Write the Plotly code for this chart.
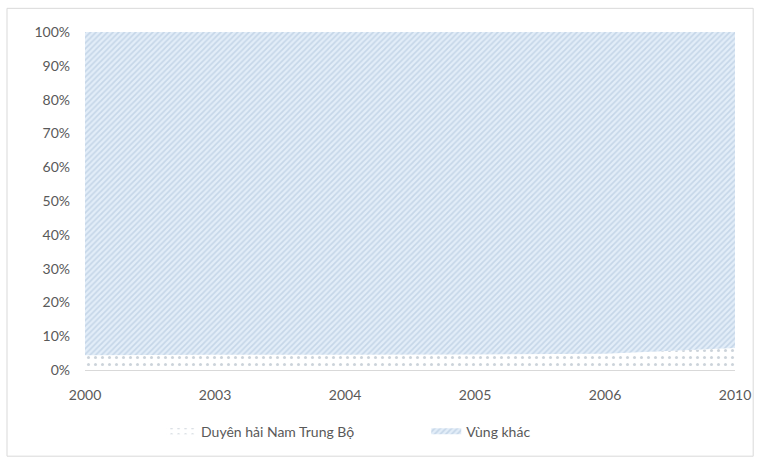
import plotly.graph_objects as go

years = ["2000", "2003", "2004", "2005", "2006", "2010"]
duyen_hai = [4.4, 4.5, 4.5, 4.6, 4.8, 6.5]
vung_khac = [95.6, 95.5, 95.5, 95.4, 95.2, 93.5]

fig = go.Figure()
fig.add_trace(go.Scatter(
    x=years, y=duyen_hai, name="Duyên hải Nam Trung Bộ",
    stackgroup="one", groupnorm="percent", mode="none", legend="legend",
    fillcolor="rgba(255,255,255,1)",
    fillpattern=dict(shape=".", fgcolor="#9aa7b5", bgcolor="white", size=7, solidity=0.15),
))
fig.add_trace(go.Scatter(
    x=years, y=vung_khac, name="Vùng khác",
    stackgroup="one", mode="none", legend="legend2",
    fillcolor="#dbe8f5",
    fillpattern=dict(shape="/", fgcolor="#a8bfd8", bgcolor="#e2edf8", size=4, solidity=0.4),
))

leg_common = dict(orientation="h", xanchor="left", y=-0.135, yanchor="top",
                  font=dict(size=14, color="#595959"), itemwidth=30,
                  bgcolor="rgba(0,0,0,0)")
fig.update_layout(
    width=766, height=465,
    margin=dict(l=85, r=31, t=32, b=95),
    paper_bgcolor="white", plot_bgcolor="white",
    font=dict(family="Lato, Open Sans, sans-serif", size=14, color="#595959"),
    showlegend=True,
    legend=dict(x=0.117, **leg_common),
    legend2=dict(x=0.525, **leg_common),
    shapes=[dict(type="rect", xref="paper", yref="paper",
                 x0=-0.12, x1=1.028, y0=-0.255, y1=1.07,
                 line=dict(color="#d9d9d9", width=1))],
)
fig.update_xaxes(type="category", range=[0, 5], showgrid=False,
                 showline=True, linecolor="#d9d9d9", ticks="", ticklen=0,
                 ticklabelstandoff=12)
fig.update_yaxes(range=[0, 100], dtick=10, ticksuffix="%", showgrid=True,
                 gridcolor="#e6e6e6", zeroline=False, showline=False,
                 ticklabelstandoff=14)

fig.write_html("out.html")
